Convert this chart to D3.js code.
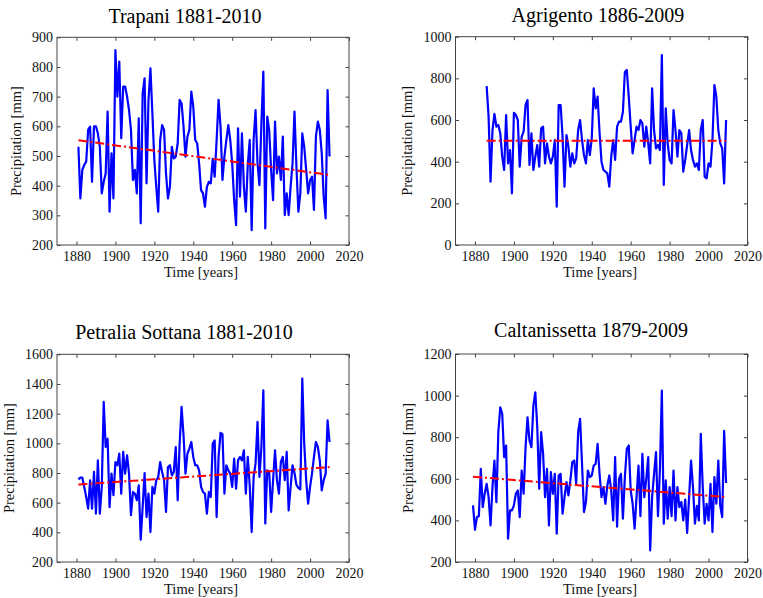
<html>
<head>
    <style>
        body { margin: 0; background: #ffffff; }
        svg { display: block; }
    </style>
    <script src="https://cdn.jsdelivr.net/npm/d3@7"></script>
</head>
<body>
<svg id="Grafico"></svg>
<script>
    // valores (mm/anio)
    let titulos = ["Trapani 1881-2010", "Agrigento 1886-2009", "Petralia Sottana 1881-2010", "Caltanissetta 1879-2009"];
    let anioInicio = [1881, 1886, 1881, 1879];

    let trapani = [
        531, 357, 453, 470, 481, 588, 599, 413, 600, 600,
        576, 531, 374, 413, 441, 650, 312, 509, 357, 857,
        700, 818, 560, 734, 734, 700, 655, 588, 419, 453,
        374, 627, 273, 711, 762, 408, 689, 795, 644, 486,
        396, 312, 554, 604, 588, 441, 357, 396, 531, 492,
        498, 543, 689, 677, 600, 498, 565, 588, 717, 666,
        554, 543, 475, 385, 374, 329, 396, 413, 408, 490,
        430, 554, 689, 600, 419, 498, 554, 604, 554, 475,
        351, 267, 593, 363, 576, 396, 312, 470, 554, 250,
        554, 655, 475, 402, 610, 784, 256, 633, 588, 453,
        351, 616, 441, 498, 419, 565, 301, 374, 301, 396,
        475, 650, 463, 312, 374, 576, 531, 453, 374, 419,
        430, 318, 565, 616, 588, 509, 363, 290, 722, 498
    ];

    let agrigento = [
        763, 616, 304, 552, 629,
        568, 576, 536, 424, 360, 624, 392, 456, 248, 635,
        624, 600, 376, 520, 544, 672, 696, 384, 536, 360,
        424, 480, 376, 560, 568, 392, 488, 424, 392, 424,
        504, 184, 672, 672, 520, 280, 528, 472, 376, 440,
        392, 416, 552, 600, 504, 432, 392, 504, 432, 512,
        752, 656, 712, 540, 400, 360, 352, 344, 280, 424,
        504, 408, 568, 592, 592, 640, 830, 840, 712, 568,
        440, 504, 568, 552, 600, 584, 472, 568, 488, 392,
        752, 552, 464, 480, 456, 912, 288, 656, 488, 408,
        392, 648, 552, 424, 552, 536, 352, 408, 480, 552,
        456, 408, 376, 392, 360, 552, 600, 328, 320, 392,
        376, 504, 768, 712, 552, 488, 464, 296, 600
    ];

    let petralia = [
        757, 769, 769, 706, 638, 560, 751, 560, 807, 526,
        885, 526, 706, 1279, 975, 1031, 570, 796, 650, 874,
        852, 930, 661, 942, 796, 919, 796, 515, 672, 661,
        616, 717, 351, 571, 800, 503, 661, 402, 706, 661,
        751, 773, 874, 807, 751, 537, 840, 852, 784, 807,
        975, 616, 998, 1245, 1054, 796, 930, 964, 1009, 908,
        852, 852, 818, 706, 672, 661, 526, 672, 638, 998,
        1020, 503, 908, 1070, 1061, 661, 852, 818, 796, 706,
        897, 694, 885, 908, 885, 953, 661, 908, 717, 402,
        773, 863, 1144, 773, 975, 1357, 459, 818, 807, 537,
        751, 953, 751, 661, 874, 908, 751, 942, 548, 706,
        852, 800, 720, 700, 690, 1436, 998, 751, 593, 706,
        796, 908, 1009, 975, 885, 683, 751, 796, 1155, 1009
    ];

    let caltanissetta = [
        472, 355,
        416, 420, 648, 464, 528, 576, 512, 376, 560, 688,
        488, 824, 944, 912, 704, 760, 312, 448, 448, 472,
        528, 544, 416, 640, 528, 752, 896, 784, 752, 952,
        1016, 848, 552, 824, 720, 512, 648, 376, 632, 528,
        624, 336, 616, 624, 432, 512, 584, 520, 592, 680,
        688, 576, 824, 888, 672, 440, 488, 640, 608, 616,
        664, 672, 768, 624, 512, 560, 480, 568, 616, 544,
        400, 704, 370, 600, 624, 408, 608, 744, 760, 544,
        480, 360, 512, 664, 420, 720, 512, 600, 704, 256,
        512, 624, 728, 420, 640, 1024, 384, 592, 408, 560,
        420, 640, 400, 560, 464, 488, 400, 500, 340, 512,
        688, 560, 384, 470, 400, 816, 560, 384, 480, 400,
        576, 344, 608, 480, 688, 470, 416, 830, 580
    ];

    let series = [trapani, agrigento, petralia, caltanissetta];

    // recta de tendencia: valor al inicio y al final de cada serie
    let tendencias = [[553, 436], [500, 500], [722, 840], [610, 512]];

    let dominioX = [1870, 2020];
    let ticksX = [1880, 1900, 1920, 1940, 1960, 1980, 2000, 2020];
    let dominiosY = [[200, 900], [0, 1000], [200, 1600], [200, 1200]];
    let ticksY = [
        [200, 300, 400, 500, 600, 700, 800, 900],
        [0, 200, 400, 600, 800, 1000],
        [200, 400, 600, 800, 1000, 1200, 1400, 1600],
        [200, 400, 600, 800, 1000, 1200]
    ];

    let etiquetaX = "Time [years]";
    let etiquetaY = "Precipitation [mm]";

    let fuente = "'Liberation Serif', 'Times New Roman', serif";


    function configuracion() {
        let ancho = 763;
        let alto = 598;
        let contenedor = d3.select("#Grafico")
            .attr("width", ancho)
            .attr("height", alto);

        // cajas de los ejes, en pixeles
        let paneles = [
            { x0: 57, x1: 349, y0: 37.3, y1: 245, tituloX: 185, tituloY: 23, ylabX: 21, xlabX: 201 },
            { x0: 455.5, x1: 747.5, y0: 36.7, y1: 245, tituloX: 598, tituloY: 22, ylabX: 412, xlabX: 600 },
            { x0: 57, x1: 349, y0: 354.3, y1: 562, tituloX: 184, tituloY: 339, ylabX: 14, xlabX: 201 },
            { x0: 455.5, x1: 747.5, y0: 354, y1: 562, tituloX: 591, tituloY: 337, ylabX: 413, xlabX: 600 }
        ];

        return { ancho, alto, contenedor, paneles };
    }

    function estiloEje(eje) {
        eje.select(".domain").remove();
        eje.attr("font-family", null).attr("font-size", null);
        eje.selectAll(".tick line").attr("stroke", "#444");
        eje.selectAll(".tick text")
            .style("font-family", fuente)
            .style("font-size", "14px")
            .attr("fill", "#111");
    }

    function dibujarPanel(i, config) {
        let p = config.paneles[i];
        let g = config.contenedor.append("g");

        let escalaX = d3.scaleLinear().domain(dominioX).range([p.x0, p.x1]);
        let escalaY = d3.scaleLinear().domain(dominiosY[i]).range([p.y1, p.y0]);

        // ejes estilo matlab: marcas hacia dentro en los cuatro lados
        g.append("g")
            .attr("transform", `translate(0,${p.y1})`)
            .call(d3.axisBottom(escalaX).tickValues(ticksX).tickFormat(d3.format("d"))
                .tickSizeInner(-3.5).tickSizeOuter(0).tickPadding(6))
            .call(estiloEje);

        g.append("g")
            .attr("transform", `translate(0,${p.y0})`)
            .call(d3.axisTop(escalaX).tickValues(ticksX).tickFormat("")
                .tickSizeInner(-3.5).tickSizeOuter(0))
            .call(estiloEje);

        g.append("g")
            .attr("transform", `translate(${p.x0},0)`)
            .call(d3.axisLeft(escalaY).tickValues(ticksY[i]).tickFormat(d3.format("d"))
                .tickSizeInner(-3.5).tickSizeOuter(0).tickPadding(4))
            .call(estiloEje);

        g.append("g")
            .attr("transform", `translate(${p.x1},0)`)
            .call(d3.axisRight(escalaY).tickValues(ticksY[i]).tickFormat("")
                .tickSizeInner(-3.5).tickSizeOuter(0))
            .call(estiloEje);

        g.append("rect")
            .attr("x", p.x0).attr("y", p.y0)
            .attr("width", p.x1 - p.x0).attr("height", p.y1 - p.y0)
            .attr("fill", "none")
            .attr("stroke", "#444")
            .attr("stroke-width", 1);

        let datos = series[i].map((v, k) => ({ anio: anioInicio[i] + k, valor: v }));

        let linea = d3.line()
            .x(d => escalaX(d.anio))
            .y(d => escalaY(d.valor));

        g.append("path")
            .datum(datos)
            .attr("d", linea)
            .attr("fill", "none")
            .attr("stroke", "#0000ff")
            .attr("stroke-width", 2.2)
            .attr("stroke-linejoin", "round");

        let primero = datos[0].anio;
        let ultimo = datos[datos.length - 1].anio;
        let recta = [
            { anio: primero, valor: tendencias[i][0] },
            { anio: ultimo, valor: tendencias[i][1] }
        ];

        g.append("path")
            .datum(recta)
            .attr("d", linea)
            .attr("fill", "none")
            .attr("stroke", "#ff0000")
            .attr("stroke-width", 2)
            .attr("stroke-dasharray", "9,3,2,3");

        g.append("text")
            .attr("x", p.tituloX)
            .attr("y", p.tituloY)
            .attr("text-anchor", "middle")
            .style("font-family", fuente)
            .style("font-size", "20px")
            .text(titulos[i]);

        g.append("text")
            .attr("x", p.xlabX)
            .attr("y", p.y1 + 32)
            .attr("text-anchor", "middle")
            .attr("fill", "#111")
            .style("font-family", fuente)
            .style("font-size", "14.5px")
            .text(etiquetaX);

        let cy = (p.y0 + p.y1) / 2;
        g.append("text")
            .attr("transform", `translate(${p.ylabX},${cy}) rotate(-90)`)
            .attr("text-anchor", "middle")
            .attr("fill", "#111")
            .style("font-family", fuente)
            .style("font-size", "14.5px")
            .text(etiquetaY);
    }

    let config = configuracion();
    for (let i = 0; i < series.length; i++) {
        dibujarPanel(i, config);
    }
</script>
</body>
</html>
